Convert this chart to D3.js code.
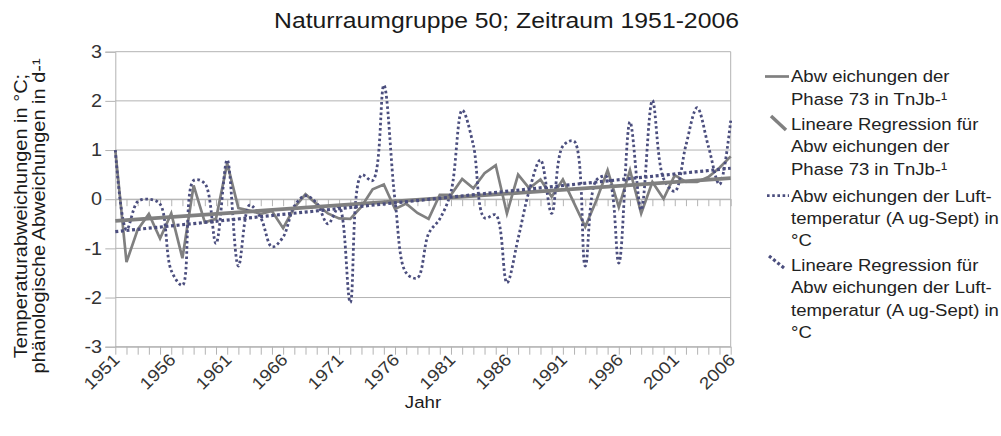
<!DOCTYPE html>
<html>
<head>
<meta charset="utf-8">
<script src="https://cdnjs.cloudflare.com/ajax/libs/d3/7.8.5/d3.min.js"></script>
<style>
body{margin:0;background:#fff;}
text{font-family:"Liberation Sans",Arial,sans-serif;}
</style>
</head>
<body>
<div class="container"></div>
<script>
// Naturraumgruppe 50, 1951-2006
var years=[1951,1952,1953,1954,1955,1956,1957,1958,1959,1960,
    1961,1962,1963,1964,1965,1966,1967,1968,1969,1970,
    1971,1972,1973,1974,1975,1976,1977,1978,1979,1980,
    1981,1982,1983,1984,1985,1986,1987,1988,1989,1990,
    1991,1992,1993,1994,1995,1996,1997,1998,1999,2000,
    2001,2002,2003,2004,2005,2006];

// Abweichungen der Phase 73 (d)
var phase=[1.0,-1.28,-0.62,-0.3,-0.8,-0.29,-1.2,0.28,-0.47,-0.4,
    0.73,-0.18,-0.23,-0.3,-0.24,-0.59,-0.17,0.1,-0.1,-0.29,
    -0.39,-0.4,-0.15,0.2,0.3,-0.2,-0.09,-0.28,-0.4,0.09,
    0.09,0.41,0.22,0.53,0.69,-0.29,0.5,0.22,0.4,0.05,
    0.4,-0.08,-0.56,-0.02,0.59,-0.16,0.59,-0.29,0.35,0.01,
    0.49,0.35,0.35,0.45,0.64,0.87];

// Abweichungen der Lufttemperatur Aug-Sept (°C)
var temp=[1.0,-0.62,-0.05,0.0,-0.1,-1.45,-1.75,0.38,0.32,-0.9,
    0.8,-1.36,-0.12,-0.38,-0.97,-0.77,-0.14,0.07,-0.08,-0.5,
    -0.16,-2.1,0.49,0.38,2.32,-0.02,-1.5,-1.6,-0.7,-0.4,
    0.15,1.81,1.1,-0.38,-0.32,-1.7,-0.8,0.18,0.8,-0.29,
    1.08,1.18,-1.36,0.39,0.45,-1.3,1.57,-0.22,2.01,0.42,
    0.16,1.1,1.86,1.08,0.3,1.6];

// regression lines, start and end values
var trendYears=[1951,2006];
var phaseTrend=[-0.44,0.43];
var tempTrend=[-0.66,0.63];

var yTicks=[-3,-2,-1,0,1,2,3];
var labelYears=[1951,1956,1961,1966,1971,1976,1981,1986,1991,1996,2001,2006];

var legendLabels=[
    ["Abw eichungen der","Phase 73 in TnJb-\u00b9"],
    ["Lineare Regression f\u00fcr","Abw eichungen der","Phase 73 in TnJb-\u00b9"],
    ["Abw eichungen der Luft-","temperatur (A ug-Sept) in","\u00b0C"],
    ["Lineare Regression f\u00fcr","Abw eichungen der Luft-","temperatur (A ug-Sept) in","\u00b0C"]
];

var width=1001, height=436;
var plotL=115.3, plotR=730.7, plotT=51.7, plotB=346.7;
var grey="#808080", navy="#4b4e7e", gridc="#b3b3b3", txt="#333";

var svg=d3.select(".container").append("svg").attr("width",width).attr("height",height);

var x=d3.scaleLinear().domain([1951,2006]).range([plotL,plotR]);
var y=d3.scaleLinear().domain([-3,3]).range([plotB,plotT]);

// title
svg.append("text")
    .attr("transform","translate(506.5,28.3) scale(1.125,1)")
    .attr("text-anchor","middle")
    .attr("font-size",22)
    .attr("fill","#1a1a1a")
    .text("Naturraumgruppe 50; Zeitraum 1951-2006");

// gridlines
svg.selectAll("line.grid")
    .data(yTicks)
    .enter().append("line")
    .attr("class","grid")
    .attr("x1",plotL).attr("x2",plotR)
    .attr("y1",function(d){ return y(d);})
    .attr("y2",function(d){ return y(d);})
    .attr("stroke",gridc).attr("stroke-width",1);

svg.append("line")
    .attr("x1",plotR).attr("x2",plotR).attr("y1",plotT).attr("y2",plotB)
    .attr("stroke",gridc);

// y axis
var yAxis=d3.axisLeft(y).tickValues(yTicks).tickSize(10).tickPadding(2).tickFormat(d3.format("d"));
var gy=svg.append("g").attr("transform","translate("+plotL+",0)").call(yAxis);
gy.selectAll("path,line").attr("stroke",gridc);
gy.selectAll("text")
    .attr("font-size",18)
    .attr("fill",txt)
    .attr("font-family","Liberation Sans, Arial, sans-serif")
    .attr("transform","scale(1.1,1)")
    .text(function(d){ return d<0 ? "-"+Math.abs(d) : d;});

// x ticks on zero line
var zeroAxis=d3.axisBottom(x).tickValues(years).tickSize(7).tickSizeOuter(0).tickFormat("");
var gz=svg.append("g").attr("transform","translate(0,"+y(0)+")").call(zeroAxis);
gz.selectAll("path,line").attr("stroke",gridc);

// bottom axis with year labels
var xAxis=d3.axisBottom(x).tickValues(years).tickSize(8).tickSizeOuter(0)
    .tickFormat(function(d){ return labelYears.indexOf(d)>=0 ? d : "";});
var gx=svg.append("g").attr("transform","translate(0,"+plotB+")").call(xAxis);
gx.selectAll("path,line").attr("stroke",gridc);
gx.selectAll("text")
    .attr("x",0).attr("y",0).attr("dy",0)
    .attr("text-anchor","end")
    .attr("font-size",17)
    .attr("fill",txt)
    .attr("font-family","Liberation Sans, Arial, sans-serif")
    .attr("transform","translate(5,14) rotate(-45) scale(1.12,1)");

// axis titles
svg.append("text")
    .attr("transform","translate(423,408) scale(1.1,1)")
    .attr("text-anchor","middle")
    .attr("font-size",17)
    .attr("fill","#1a1a1a")
    .text("Jahr");

var yTitle=svg.append("g").attr("transform","translate(0,216) rotate(-90)");
yTitle.append("text")
    .attr("transform","translate(0,27) scale(1.11,1)")
    .attr("text-anchor","middle").attr("font-size",18).attr("fill","#1a1a1a")
    .text("Temperaturabweichungen in \u00b0C;");
yTitle.append("text")
    .attr("transform","translate(0,45) scale(1.11,1)")
    .attr("text-anchor","middle").attr("font-size",18).attr("fill","#1a1a1a")
    .text("ph\u00e4nologische Abweichungen in d-\u00b9");

// series
var phaseLine=d3.line()
    .x(function(d,i){ return x(years[i]);})
    .y(function(d){ return y(d);});
var tempLine=d3.line()
    .x(function(d,i){ return x(years[i]);})
    .y(function(d){ return y(d);})
    .curve(d3.curveCatmullRom.alpha(0.5));
var trendLine=d3.line()
    .x(function(d,i){ return x(trendYears[i]);})
    .y(function(d){ return y(d);});

svg.append("path").datum(phase)
    .attr("d",phaseLine).attr("fill","none")
    .attr("stroke",grey).attr("stroke-width",2.7).attr("stroke-linejoin","miter");

svg.append("path").datum(temp)
    .attr("d",tempLine).attr("fill","none")
    .attr("stroke",navy).attr("stroke-width",2.8).attr("stroke-dasharray","2.6,2.6");

svg.append("path").datum(phaseTrend)
    .attr("d",trendLine).attr("fill","none")
    .attr("stroke",grey).attr("stroke-width",3.7);

svg.append("path").datum(tempTrend)
    .attr("d",trendLine).attr("fill","none")
    .attr("stroke",navy).attr("stroke-width",3.2).attr("stroke-dasharray","3,2.6");

// legend
var legendY=[76.5,124,195.7,265];
var lineGap=22.4;
var symbols=[
    {x1:765,x2:789,d1:0,d2:0,c:grey,w:2.7,dash:null},
    {x1:771,x2:786,d1:-8,d2:6,c:grey,w:3.5,dash:null},
    {x1:767,x2:789,d1:0,d2:0,c:navy,w:2.8,dash:"2.6,2.6"},
    {x1:769,x2:784,d1:-9,d2:3,c:navy,w:3.2,dash:"3,2.4"}
];
var legend=svg.append("g").attr("class","legend");
legendLabels.forEach(function(lines,k){
    var s=symbols[k];
    legend.append("line")
        .attr("x1",s.x1).attr("x2",s.x2)
        .attr("y1",legendY[k]+s.d1).attr("y2",legendY[k]+s.d2)
        .attr("stroke",s.c).attr("stroke-width",s.w)
        .attr("stroke-dasharray",s.dash);
    lines.forEach(function(t,j){
        legend.append("text")
            .attr("transform","translate(791,"+(legendY[k]+j*lineGap)+") scale(1.09,1)")
            .attr("dy","0.35em")
            .attr("font-size",17)
            .attr("fill","#222")
            .text(t);
    });
});
</script>
</body>
</html>
